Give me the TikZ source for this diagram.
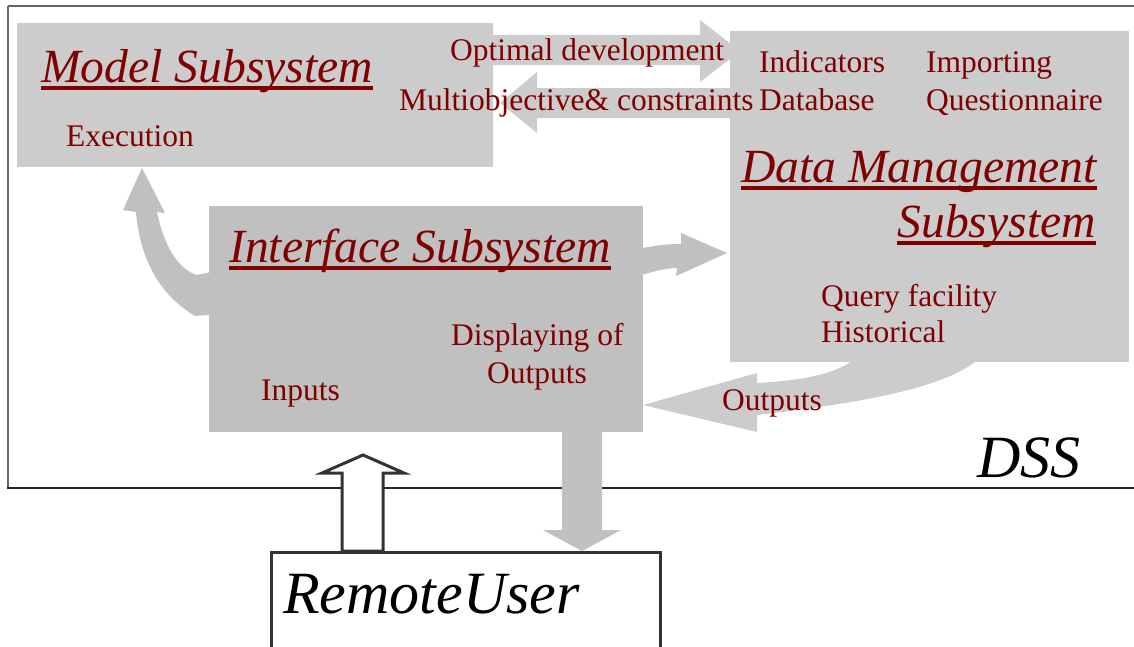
\documentclass[tikz,border=0pt]{standalone}
\usepackage{fontspec}
\setmainfont{Liberation Serif}
\definecolor{dred}{HTML}{800000}
\definecolor{gA}{HTML}{CCCCCC}
\definecolor{gB}{HTML}{C0C0C0}
\definecolor{dk}{HTML}{333333}
\definecolor{fr}{HTML}{666666}
\begin{document}
\begin{tikzpicture}[x=1pt,y=-1pt,
  box/.style={fill=#1, draw=none, inner sep=0pt, anchor=north west},
  lbl/.style={inner sep=0pt, anchor=base west, text=dred, font=\fontsize{31.5}{36}\selectfont},
  ttl/.style={inner sep=0pt, anchor=base west, text=dred, font=\fontsize{47.6}{54}\selectfont\itshape},
  big/.style={inner sep=0pt, anchor=base west, text=black, font=\fontsize{60}{70}\selectfont\itshape},
  ul/.style={draw=dred, line width=3.2pt},
  blk/.style={fill=#1, draw=none}]
\useasboundingbox (0,0) rectangle (1134,646);
% frame
\draw[fr, line width=1.5pt] (8,6) -- (1134,6);
\draw[fr, line width=2pt] (8,6) -- (8,488);
\draw[black!85, line width=2.5pt] (7,488) -- (1134,488);
% top arrows
\fill[gA] (480,35) -- (700,35) -- (700,20) -- (740,51) -- (700,82) -- (700,65) -- (480,65) -- cycle;
\fill[gA] (745,88) -- (537,88) -- (537,72) -- (500,103) -- (537,133) -- (537,118) -- (745,118) -- cycle;
% outputs arrow
\fill[gA] (643,405) -- (757,373) -- (757,383) .. controls (810,380) and (845,372) .. (862,352) -- (985,352) .. controls (960,385) and (870,402) .. (757,415) -- (757,432) -- cycle;
% curved arrow interface -> model
\fill[gB] (142,168) -- (165,213) -- (157,212) .. controls (165,250) and (180,270) .. (197,275) -- (220,270) -- (220,314) -- (195,316) .. controls (160,295) and (140,260) .. (136,212) -- (123,210) -- cycle;
% interface -> data arrow
\fill[gB] (630,251) .. controls (650,246) and (665,244) .. (681,244) -- (681,233) -- (727,253) -- (676,276) -- (677,268) .. controls (665,268) and (650,272) .. (630,279) -- cycle;
% down arrow
\fill[gB] (562,425) -- (602,425) -- (602,530) -- (621,530) -- (582,551) -- (543,530) -- (562,530) -- cycle;
% boxes
\node[box=gA, minimum width=476pt, minimum height=144pt] (model) at (17,23) {};
\node[box=gA, minimum width=399pt, minimum height=331pt] (data) at (730,31) {};
\node[box=gB, minimum width=434pt, minimum height=226pt] (iface) at (209,206) {};
% up arrow
\filldraw[fill=white, draw=dk, line width=3pt, line join=miter] (342,551) -- (342,473) -- (322,473) -- (363,455) -- (404,473) -- (383,473) -- (383,551) -- cycle;
% remote user box
\node[box=white, draw=dk, line width=3pt, minimum width=389pt, minimum height=120pt] (user) at (270,551) {};
% texts
\node[ttl] (tm) at (41,82) {Model Subsystem};
\draw[ul] ([yshift=-6pt]tm.base west) -- ([yshift=-6pt]tm.base east);
\node[lbl] at (66,146) {Execution};
\node[lbl] at (450,60) {Optimal development};
\node[lbl] at (399,110) {Multiobjective\& constraints};
\node[lbl] at (759,72) {Indicators};
\node[lbl] at (759,110) {Database};
\node[lbl] at (926,72) {Importing};
\node[lbl] at (926,110) {Questionnaire};
\node[ttl] (td) at (741,182) {Data Management};
\draw[ul] ([yshift=-6pt]td.base west) -- ([yshift=-6pt]td.base east);
\node[ttl, anchor=base east] (ts) at (1096,237) {Subsystem};
\draw[ul] ([yshift=-6pt]ts.base west) -- ([yshift=-6pt]ts.base east);
\node[lbl] at (821,306) {Query facility};
\node[lbl] at (821,342) {Historical};
\node[ttl] (ti) at (229,262) {Interface Subsystem};
\draw[ul] ([yshift=-6pt]ti.base west) -- ([yshift=-6pt]ti.base east);
\node[lbl] at (451,345) {Displaying of};
\node[lbl] at (487,383) {Outputs};
\node[lbl] at (261,400) {Inputs};
\node[lbl] at (722,410) {Outputs};
\node[big] at (977,477) {DSS};
\node[big] at (283,613) {RemoteUser};
\end{tikzpicture}
\end{document}
